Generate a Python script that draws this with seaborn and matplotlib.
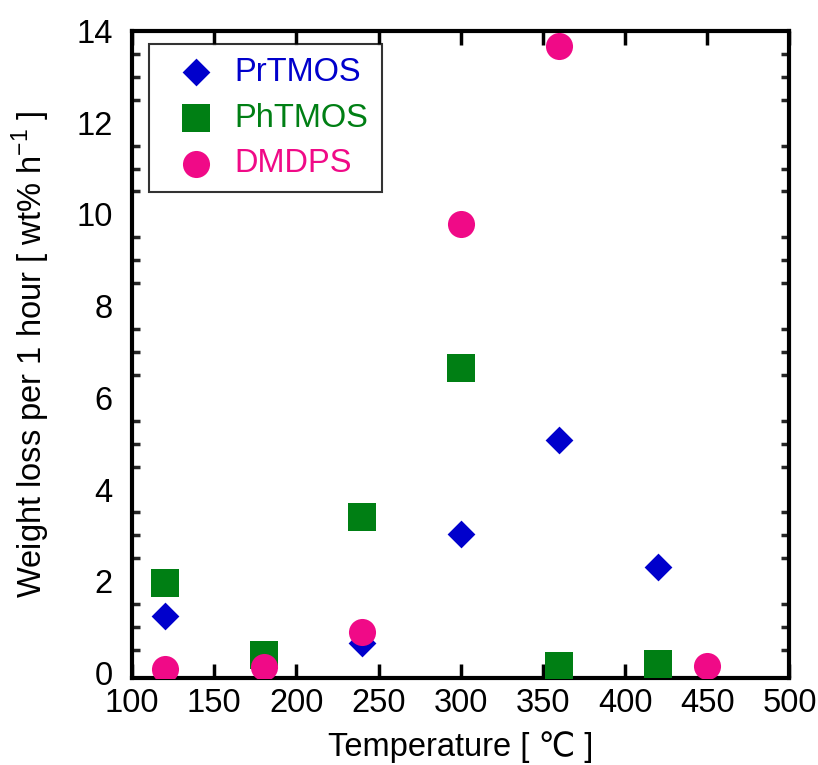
import matplotlib
matplotlib.use("Agg")
import matplotlib.pyplot as plt
import seaborn as sns
import numpy as np
from matplotlib.ticker import MultipleLocator, FixedLocator

# Weight loss rate versus temperature for three siloxane precursors
pr_temp = [120, 240, 300, 360, 420]
pr_loss = [1.25, 0.66, 3.03, 5.08, 2.32]

ph_temp = [120, 180, 240, 300, 360, 420]
ph_loss = [1.97, 0.40, 3.41, 6.64, 0.15, 0.20]

dm_temp = [120, 180, 240, 300, 360, 450]
dm_loss = [0.09, 0.12, 0.89, 9.80, 13.68, 0.16]

series_names = ["PrTMOS", "PhTMOS", "DMDPS"]
series_colors = ["#0000CC", "#007F14", "#F00A87"]

FS = 23.5

sns.set_theme(style="white")
plt.rcParams["font.family"] = ["Liberation Sans", "DejaVu Sans"]

fig = plt.figure(figsize=(8.18, 7.65), dpi=100)
ax = fig.add_axes([0.1614, 0.1137, 0.8037, 0.8458])

sns.scatterplot(x=pr_temp, y=pr_loss, marker="D", s=200, color=series_colors[0],
                linewidth=0, label=series_names[0], ax=ax, zorder=3)
sns.scatterplot(x=ph_temp, y=ph_loss, marker="s", s=400, color=series_colors[1],
                linewidth=0, label=series_names[1], ax=ax, zorder=3)
sns.scatterplot(x=dm_temp, y=dm_loss, marker="o", s=380, color=series_colors[2],
                linewidth=0, label=series_names[2], ax=ax, zorder=4)

ax.set_xlim(100, 500)
ax.set_ylim(-0.11, 14)

ax.xaxis.set_major_locator(MultipleLocator(50))
ax.yaxis.set_major_locator(MultipleLocator(2))
minor_y = [v for v in np.arange(0.5, 14, 0.5) if v % 2 != 0]
ax.yaxis.set_minor_locator(FixedLocator(minor_y))

ax.tick_params(axis="x", which="major", direction="in", length=10, width=2.5,
               top=True, bottom=True, labelsize=FS, pad=7, colors="black")
ax.tick_params(axis="y", which="major", direction="in", length=0,
               left=True, right=True, labelsize=FS, pad=14, colors="black")
ax.tick_params(axis="y", which="minor", direction="in", length=6, width=2.5,
               left=True, right=True)

for sp in ax.spines.values():
    sp.set_visible(True)
    sp.set_color("black")
    sp.set_linewidth(3)

ax.set_xlabel("Temperature [ \u2103 ]", fontsize=FS, labelpad=9, color="black")
ax.set_ylabel("Weight loss per 1 hour [ wt% h$^{\\mathregular{-1}}$ ]", fontsize=FS,
              labelpad=17, color="black")

leg = ax.legend(loc="upper left", bbox_to_anchor=(0.026, 0.98), borderaxespad=0,
                fontsize=FS, frameon=True, fancybox=False, edgecolor="black",
                labelspacing=0.45, handletextpad=0.12, borderpad=0.4,
                handlelength=2.1)
leg.get_frame().set_linewidth(1.5)
for txt, col in zip(leg.get_texts(), series_colors):
    txt.set_color(col)

fig.savefig("out.png", dpi=100, facecolor="white")
